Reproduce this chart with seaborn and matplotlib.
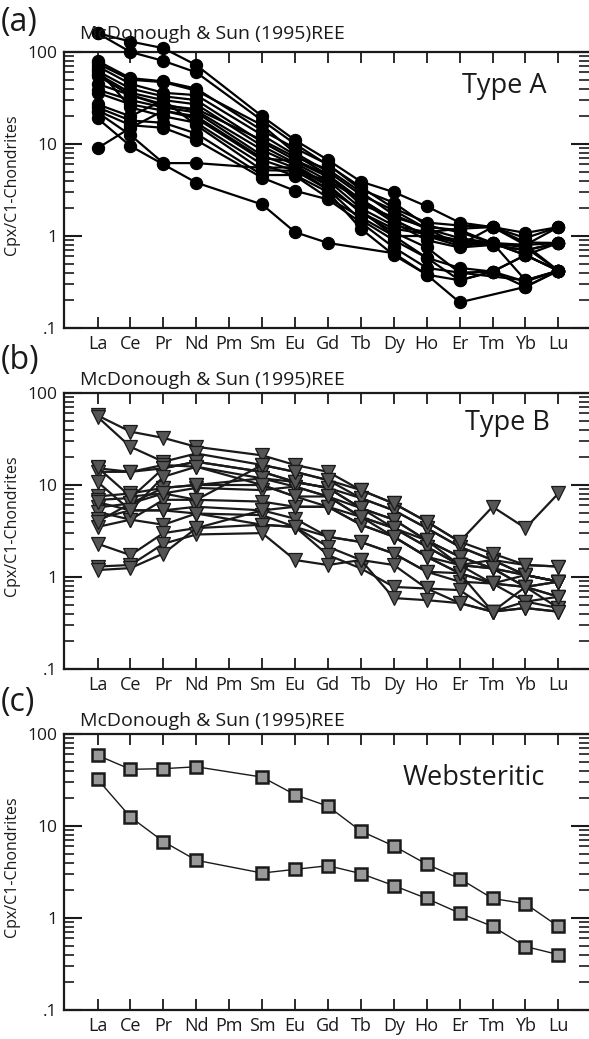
import numpy as np
import pandas as pd
import matplotlib
matplotlib.use("Agg")
import matplotlib.pyplot as plt
import seaborn as sns
from matplotlib.ticker import FixedLocator, FixedFormatter, LogLocator, NullFormatter

nan = np.nan

ELEMENTS = ["La", "Ce", "Pr", "Nd", "Pm", "Sm", "Eu", "Gd", "Tb", "Dy", "Ho", "Er", "Tm", "Yb", "Lu"]
Y_TICKS = [0.1, 1, 10, 100]
Y_TICK_LABELS = [".1", "1", "10", "100"]
REFERENCE = "McDonough & Sun (1995)REE"
YLABEL = "Cpx/C1-Chondrites"

# Type A clinopyroxenes (chondrite normalised)
TYPE_A = [
    [160, 130, 110, 72, nan, 20, 11, 6.7, 3.9, 3.0, 2.1, 1.4, 1.25, 1.08, 1.25],
    [160, 100, 80, 60, nan, 18, 10, 5.9, 3.4, 2.0, 1.4, 1.3, 1.25, 0.85, 0.84],
    [80, 52, 48, 40, nan, 14, 9.0, 6.0, 3.2, 2.3, 1.3, 1.1, 0.84, 0.75, 0.42],
    [75, 50, 47, 38, nan, 16, 8.0, 5.0, 2.8, 1.9, 1.2, 0.95, 0.84, 0.62, 0.42],
    [70, 45, 36, 34, nan, 12.5, 7.6, 4.6, 2.5, 1.5, 1.0, 0.78, 0.84, 0.80, 0.42],
    [62, 40, 33, 30, nan, 10.5, 6.7, 4.6, 2.2, 1.6, 1.25, 1.16, 0.84, 0.62, 0.84],
    [58, 36, 30, 27, nan, 9.5, 6.2, 4.0, 2.0, 1.3, 1.1, 1.2, 1.25, 0.95, 1.25],
    [55, 34, 27, 23, nan, 8.6, 5.9, 3.6, 1.8, 1.2, 1.05, 0.9, 0.8, 0.7, 0.84],
    [39, 30, 25, 22, nan, 7.5, 5.5, 3.2, 1.5, 0.9, 0.58, 0.45, 0.41, 0.62, 0.42],
    [36, 27, 23, 19, nan, 6.7, 5.1, 4.0, 2.5, 1.5, 1.0, 0.9, 0.84, 0.33, 0.42],
    [27, 20, 30, 16, nan, 5.2, 5.1, 3.2, 1.9, 1.0, 0.58, 0.33, 0.41, 0.62, 0.42],
    [25, 18, 17, 13, nan, 4.6, 4.6, 3.0, 1.2, 0.62, 0.38, 0.19, nan, 0.28, 0.42],
    [23, 16, 15, 11, nan, 4.3, 3.1, 2.5, 1.4, 0.75, 0.45, 0.40, nan, 0.33, 0.42],
    [22, 12.5, 6.2, 6.2, nan, 5.5, 5.6, 3.5, 1.8, 1.1, 0.75, 0.40, 0.41, 0.32, 0.42],
    [19, 9.5, 6.0, 3.8, nan, 2.2, 1.1, 0.84, nan, 0.65, 0.38, 0.33, 0.41, 0.28, 0.42],
    [9, 15, 23, 20, nan, 7.0, 6.5, 4.4, 2.4, 1.4, 0.9, 0.75, 0.8, 0.7, 0.84],
    [45, 34, 26, 24, nan, 11, 7.2, 5.3, 3.0, 1.7, 1.2, 0.8, 1.25, 0.8, 0.84],
    [65, 25, 20, 17, nan, 6.0, 4.5, 2.6, 1.6, 1.0, 1.0, 0.85, 0.8, 0.8, 1.25],
]

# Type B clinopyroxenes
TYPE_B = [
    [57, 38, 32.5, 26, nan, 21, 16.5, 13.9, 8.8, 6.3, 4.0, 2.42, 5.8, 3.4, 8.1],
    [55, 26, 17.9, 22, nan, 16.5, 13.9, 11.3, 7.2, 5.3, 3.4, 2.13, 1.53, 1.05, 0.89],
    [15.2, 13.9, 15.2, 17.9, nan, 13.9, 10.8, 9.3, 5.6, 4.2, 2.5, 1.66, 1.24, 0.78, 0.61],
    [13.9, 13.9, 16.5, 15.8, nan, 11.8, 9.6, 7.5, 4.5, 3.4, 2.13, 1.35, 1.24, 1.05, 0.89],
    [10.8, 5.3, 5.3, 4.9, nan, 3.7, 3.5, 2.74, 2.4, 1.8, 1.14, 0.89, 0.85, 0.54, 0.46],
    [7.5, 8.1, 9.3, 10, nan, 10, 7.5, 5.8, 3.7, 2.74, 1.66, 1.1, 0.85, 0.78, 0.89],
    [6.9, 7.2, 15.2, 17.9, nan, 13.9, 10.8, 9.3, 7.2, 5.3, 3.4, 2.13, 1.53, 1.05, 0.89],
    [5.7, 6.3, 8.1, 9.3, nan, 8.8, 9.6, 7.5, 5.6, 4.2, 2.5, 1.66, 1.24, 1.05, 0.89],
    [5.1, 4.2, 6.9, 6.9, nan, 6.6, 5.8, 5.8, 4.5, 3.4, 2.13, 1.35, 1.53, 1.35, 1.3],
    [4.3, 5.3, 5.3, 5.8, nan, 5.3, 4.3, 2.74, 2.4, 1.8, 1.14, 1.1, 0.42, 0.54, 0.61],
    [3.5, 4.2, 3.7, 4.9, nan, 4.7, 3.5, 2.13, 1.53, 1.35, 0.75, 0.72, 0.42, 0.46, 0.42],
    [2.3, 1.73, 3.0, 3.4, nan, 3.7, 3.5, 1.73, 1.24, 0.78, 0.75, 0.52, 0.42, 0.78, 0.46],
    [1.3, 1.35, 2.3, 2.9, nan, 3.0, 1.53, 1.35, 1.53, 0.59, 0.56, 0.52, 0.42, 0.46, 0.42],
    [1.19, 1.25, 1.8, 3.4, nan, 5.3, 5.8, 5.8, 3.7, 2.74, 1.66, 1.1, 0.85, 0.78, 0.61],
    [4.0, 6.3, 9.3, 10, nan, 11.8, 10.8, 9.3, 5.6, 3.4, 2.5, 1.35, 1.24, 0.78, 0.89],
    [6.5, 5.3, 12.3, 15.8, nan, 10, 7.5, 7.5, 4.5, 2.74, 1.66, 1.35, 0.85, 1.05, 0.89],
    [15.5, 7.5, 8.1, 6.9, nan, 16.5, 13.9, 11.3, 8.8, 6.3, 4.0, 2.42, 1.8, 1.35, 1.3],
]

# Websteritic clinopyroxenes
WEBSTERITIC = [
    [58.7, 41.3, 42, 44, nan, 34, 21.9, 16.4, 8.8, 6.06, 3.84, 2.68, 1.63, 1.43, 0.81],
    [32.2, 12.5, 6.77, 4.24, nan, 3.08, 3.38, 3.7, 3.04, 2.25, 1.63, 1.13, 0.81, 0.49, 0.40],
]

PANELS = [
    ("(a)", "Type A", TYPE_A),
    ("(b)", "Type B", TYPE_B),
    ("(c)", "Websteritic", WEBSTERITIC),
]

sns.set_style("ticks")
plt.rcParams["font.family"] = ["Open Sans", "DejaVu Sans"]

W, H = 589, 1039
fig = plt.figure(figsize=(W / 100, H / 100), dpi=100)


def to_long(rows):
    recs = []
    for i, row in enumerate(rows):
        for j, v in enumerate(row):
            if not np.isnan(v):
                recs.append({"sample": i, "pos": j, "value": v})
    return pd.DataFrame(recs)


tops = [52, 393, 734]
left_px, right_px, h_px = 64, 589, 276
label_y = [22, 361, 703]
ref_y = [39, 385, 726]
type_pos = [(0.92, 0.878), (0.925, 0.89), (0.916, 0.84)]

INK = "#1a1a1a"
styles = [
    dict(marker="o", markersize=8.8, markerfacecolor="black", markeredgecolor="black",
         markeredgewidth=0.8, linewidth=1.6, color="black"),
    dict(marker="v", markersize=9.8, markerfacecolor="#555555", markeredgecolor=INK,
         markeredgewidth=0.9, linewidth=1.6, color=INK),
    dict(marker="s", markersize=8.0, markerfacecolor="#999999", markeredgecolor=INK,
         markeredgewidth=1.8, linewidth=1.0, color=INK),
]

for k, (plabel, tlabel, rows) in enumerate(PANELS):
    top = tops[k]
    ax = fig.add_axes([left_px / W, 1 - (top + h_px) / H, (right_px - left_px) / W, h_px / H])
    ax.set_yscale("log")
    df = to_long(rows)
    sns.lineplot(data=df, x="pos", y="value", units="sample", estimator=None, sort=False,
                 ax=ax, legend=False, clip_on=False, zorder=3, **styles[k])
    ax.set_xlim(-1.02, 14.93)
    ax.set_ylim(0.1, 100)
    ax.set_xticks(range(len(ELEMENTS)))
    ax.set_xticklabels(ELEMENTS, fontsize=13)
    ax.yaxis.set_major_locator(FixedLocator(Y_TICKS))
    ax.yaxis.set_major_formatter(FixedFormatter(Y_TICK_LABELS))
    ax.yaxis.set_minor_locator(LogLocator(base=10, subs=range(2, 10)))
    ax.yaxis.set_minor_formatter(NullFormatter())
    ax.tick_params(axis="x", direction="in", length=8, width=1.3, top=True, bottom=True,
                   pad=5, colors=INK, labelcolor=INK)
    ax.tick_params(axis="y", which="major", direction="in", length=13, width=1.5,
                   left=True, right=True, labelsize=12.5, pad=5, colors=INK)
    ax.tick_params(axis="y", which="minor", direction="in", length=7, width=1.2,
                   left=True, right=True, colors=INK)
    for s in ["left", "top", "bottom"]:
        ax.spines[s].set_linewidth(1.6)
        ax.spines[s].set_color(INK)
    ax.spines["right"].set_visible(False)
    ax.set_xlabel("")
    ax.set_ylabel(YLABEL, fontsize=11.5, color=INK)
    ax.yaxis.set_label_coords((20 - left_px) / (right_px - left_px), 0.52)
    ax.text(type_pos[k][0], type_pos[k][1], tlabel, transform=ax.transAxes,
            ha="right", va="center", fontsize=19.5, color=INK)
    fig.text(1 / W, 1 - label_y[k] / H, plabel, ha="left", va="center", fontsize=23,
             color=INK)
    fig.text(80 / W, 1 - ref_y[k] / H, REFERENCE, ha="left", va="baseline", fontsize=14,
             color=INK)

fig.savefig("out.png", dpi=100)
